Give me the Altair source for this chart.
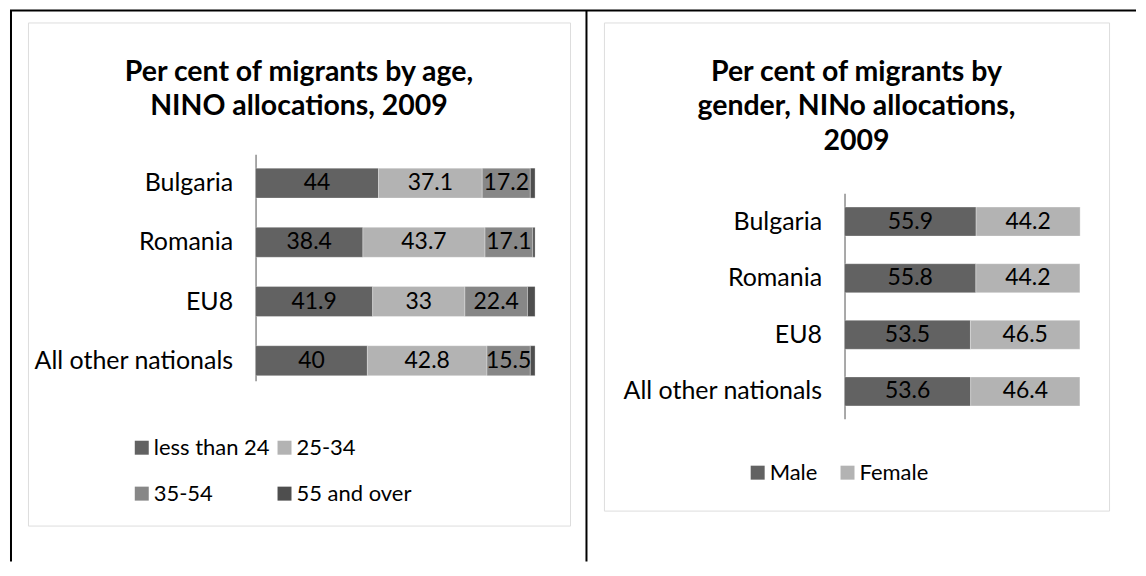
import altair as alt
import pandas as pd

# ---------------- data ----------------
countries = ["Bulgaria", "Romania", "EU8", "All other nationals"]

age_groups = ["less than 24", "25-34", "35-54", "55 and over"]
age_less_24 = [44, 38.4, 41.9, 40]
age_25_34 = [37.1, 43.7, 33, 42.8]
age_35_54 = [17.2, 17.1, 22.4, 15.5]
age_55_over = [1.7, 0.8, 2.7, 1.7]

genders = ["Male", "Female"]
male = [55.9, 55.8, 53.5, 53.6]
female = [44.2, 44.2, 46.5, 46.4]

age_title = ["Per cent of migrants by age,", "NINO allocations, 2009"]
gender_title = ["Per cent of migrants by", "gender, NINo allocations,", "2009"]

# ---------------- styles ----------------
age_colors = ["#626262", "#b3b3b3", "#878787", "#4e4e4e"]
gender_colors = ["#626262", "#b3b3b3"]
FONT = "Lato"
CAT_SIZE = 25
BAR_SIZE = 23
LEG_SIZE = 22
TITLE_SIZE = 28.5

age_rows = []
for ci, c in enumerate(countries):
    for gi, (g, series) in enumerate(zip(age_groups, [age_less_24, age_25_34, age_35_54, age_55_over])):
        age_rows.append({"country": c, "group": g, "order": gi, "value": series[ci]})
age_df = pd.DataFrame(age_rows)

gender_rows = []
for ci, c in enumerate(countries):
    for gi, (g, series) in enumerate(zip(genders, [male, female])):
        gender_rows.append({"country": c, "group": g, "order": gi, "value": series[ci]})
gender_df = pd.DataFrame(gender_rows)

one = alt.Data(values=[{"k": 1}])


def panel(df, groups, colors, xrange, yrange, pin, pout, align, axis_off,
          title_lines, title_x, title_y, legend_x, legend_y, col_pad, row_pad, w, h):
    base = alt.Chart(df).transform_stack(
        stack="value", as_=["v0", "v1"], groupby=["country"],
        sort=[alt.SortField("order", order="ascending")]
    )
    yenc = alt.Y(
        "country:N", sort=countries,
        scale=alt.Scale(range=yrange, paddingInner=pin, paddingOuter=pout, align=align),
        axis=alt.Axis(
            title=None, ticks=False, tickSize=0, labelPadding=23, offset=axis_off,
            labelFont=FONT, labelFontSize=CAT_SIZE, labelColor="#000000",
            labelLimit=400, domainColor="#8c8c8c", domainWidth=1.5, grid=False,
        ),
    )
    xscale = alt.Scale(domain=[0, 100], range=xrange, nice=False, zero=True)
    bars = base.mark_bar(stroke="#ffffff", strokeWidth=0.5, strokeOpacity=0.6).encode(
        y=yenc,
        x=alt.X("v0:Q", scale=xscale, axis=None),
        x2="v1:Q",
        color=alt.Color(
            "group:N",
            scale=alt.Scale(domain=groups, range=colors),
            legend=alt.Legend(
                title=None, orient="none", legendX=legend_x, legendY=legend_y,
                direction="horizontal", columns=2, symbolType="square",
                symbolSize=196, symbolStrokeWidth=0,
                labelFont=FONT, labelFontSize=LEG_SIZE, labelColor="#000000",
                labelOffset=1, columnPadding=col_pad, rowPadding=row_pad, padding=0,
                labelLimit=400,
            ),
        ),
    )
    labels = base.transform_filter("datum.value >= 5").transform_calculate(
        mid="(datum.v0 + datum.v1) / 2",
        lab="format(datum.value, '.10~f')",
    ).mark_text(font=FONT, fontSize=BAR_SIZE, color="#000000", align="center",
                baseline="middle").encode(
        y=alt.Y("country:N", sort=countries),
        x=alt.X("mid:Q"),
        text="lab:N",
    )
    title = alt.Chart(one).mark_text(
        font=FONT, fontSize=TITLE_SIZE, fontWeight="bold", color="#000000",
        align="center", baseline="top", lineHeight=34.5,
    ).encode(x=alt.value(title_x), y=alt.value(title_y), text=alt.value(title_lines))
    return alt.layer(bars, labels, title).properties(width=w, height=h)


left = panel(age_df, age_groups, age_colors, [228, 508], [132, 359], 0.494, 0.161, 0.73, -228,
             age_title, 271.5, 35.5, 103, 415, 3, 24, 543, 504)

# table lines (outer frame of the figure layout)
frame_v1 = alt.Chart(one).mark_rule(color="#000000", strokeWidth=2).encode(
    x=alt.value(-17), y=alt.value(-12), y2=alt.value(540))
frame_v2 = alt.Chart(one).mark_rule(color="#000000", strokeWidth=2).encode(
    x=alt.value(559.5), y=alt.value(-12), y2=alt.value(540))
frame_h = alt.Chart(one).mark_rule(color="#000000", strokeWidth=2).encode(
    x=alt.value(-18), x2=alt.value(1110), y=alt.value(-12))
left = alt.layer(left, frame_v1, frame_v2, frame_h)

right = panel(gender_df, genders, gender_colors, [241, 476.8], [171, 397], 0.489, 0.237, 0.52, -241,
              gender_title, 253, 35.5, 143, 440, 19, 24, 506, 489)

chart = alt.hconcat(left, right, spacing=34, bounds="flush").resolve_scale(
    color="independent", x="independent", y="independent"
).properties(padding=0, background="#ffffff").configure_view(
    stroke="#8c8c8c", strokeWidth=2
).configure(font=FONT)

chart.save("out.html", embed_options={"renderer": "svg", "actions": False})
